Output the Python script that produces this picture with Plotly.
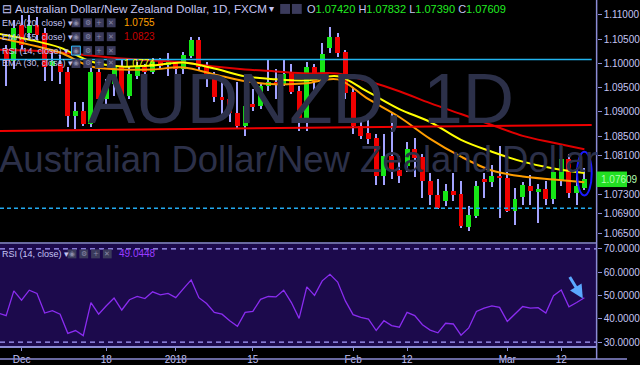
import plotly.graph_objects as go

# ---------------- data ----------------
dates = [
    "2017-11-28", "2017-11-29", "2017-11-30", "2017-12-01",
    "2017-12-04", "2017-12-05", "2017-12-06", "2017-12-07", "2017-12-08",
    "2017-12-11", "2017-12-12", "2017-12-13", "2017-12-14", "2017-12-15",
    "2017-12-18", "2017-12-19", "2017-12-20", "2017-12-21", "2017-12-22",
    "2017-12-26", "2017-12-27", "2017-12-28", "2017-12-29",
    "2018-01-01", "2018-01-02", "2018-01-03", "2018-01-04", "2018-01-05",
    "2018-01-08", "2018-01-09", "2018-01-10", "2018-01-11", "2018-01-12",
    "2018-01-15", "2018-01-16", "2018-01-17", "2018-01-18", "2018-01-19",
    "2018-01-22", "2018-01-23", "2018-01-24", "2018-01-25", "2018-01-26",
    "2018-01-29", "2018-01-30", "2018-01-31", "2018-02-01", "2018-02-02",
    "2018-02-05", "2018-02-06", "2018-02-07", "2018-02-08", "2018-02-09",
    "2018-02-12", "2018-02-13", "2018-02-14", "2018-02-15", "2018-02-16",
    "2018-02-19", "2018-02-20", "2018-02-21", "2018-02-22", "2018-02-23",
    "2018-02-26", "2018-02-27", "2018-02-28", "2018-03-01", "2018-03-02",
    "2018-03-05", "2018-03-06", "2018-03-07", "2018-03-08", "2018-03-09",
    "2018-03-12", "2018-03-13", "2018-03-14", "2018-03-15",
]
candle_dates = dates[1:]

opens = [1.10284, 1.10039, 1.10795, 1.10632, 1.10795, 1.10632, 1.09936, 1.09977, 1.09814, 1.08914,
         1.09016, 1.08750, 1.09814, 1.09261, 1.09568, 1.09916, 1.09323, 1.09732, 1.09916, 1.09814,
         1.10039, 1.09957, 1.10018, 1.09875, 1.10161, 1.10489, 1.09916, 1.09773, 1.09302, 1.09261,
         1.08975, 1.08709, 1.09159, 1.09118, 1.09527, 1.09609, 1.09568, 1.09814, 1.09425, 1.08791,
         1.09916, 1.09568, 1.10325, 1.10550, 1.10243, 1.09405, 1.08709, 1.08566, 1.08464, 1.07686,
         1.08096, 1.07809, 1.07891, 1.08239, 1.08075, 1.07584, 1.07277, 1.07155, 1.07359, 1.07298,
         1.06623, 1.06848, 1.07605, 1.07543, 1.07686, 1.07645, 1.06950, 1.07236, 1.07461, 1.07359,
         1.07400, 1.07196, 1.07564, 1.08034, 1.07318, 1.07420]
highs = [1.10386, 1.10900, 1.11000, 1.11000, 1.10959, 1.10734, 1.10284, 1.10182, 1.09916, 1.09200,
         1.09200, 1.09916, 1.09936, 1.09670, 1.10080, 1.10080, 1.09936, 1.10018, 1.09977, 1.10120,
         1.10120, 1.10223, 1.10039, 1.10243, 1.10550, 1.10550, 1.10018, 1.09814, 1.09630, 1.09507,
         1.09609, 1.09200, 1.09466, 1.09568, 1.10080, 1.09875, 1.10080, 1.09977, 1.09527, 1.10018,
         1.09977, 1.10427, 1.10755, 1.10632, 1.10284, 1.09507, 1.08811, 1.08852, 1.08545, 1.08545,
         1.08996, 1.08096, 1.08382, 1.08464, 1.08136, 1.07748, 1.07625, 1.07502, 1.07748, 1.07584,
         1.07052, 1.07584, 1.07748, 1.07911, 1.08300, 1.07809, 1.07420, 1.07543, 1.07707, 1.07502,
         1.07584, 1.08034, 1.08198, 1.08136, 1.07850, 1.07832]
lows = [1.09527, 1.09875, 1.10284, 1.10489, 1.10489, 1.09630, 1.09630, 1.09568, 1.08689, 1.08648,
        1.08709, 1.08689, 1.09159, 1.09159, 1.09323, 1.09302, 1.09261, 1.09670, 1.09773, 1.09773,
        1.09875, 1.09732, 1.09773, 1.09773, 1.10120, 1.09834, 1.09507, 1.09200, 1.08955, 1.08791,
        1.08648, 1.08505, 1.09016, 1.09057, 1.09425, 1.09261, 1.09527, 1.09364, 1.08607, 1.08607,
        1.09405, 1.09527, 1.10223, 1.10141, 1.09261, 1.08545, 1.08443, 1.08341, 1.07482, 1.07482,
        1.07625, 1.07523, 1.07768, 1.07666, 1.07216, 1.07073, 1.06990, 1.07052, 1.07155, 1.06602,
        1.06541, 1.06807, 1.07216, 1.07441, 1.06807, 1.06930, 1.06664, 1.07073, 1.07073, 1.06705,
        1.07073, 1.07093, 1.07461, 1.07216, 1.07073, 1.07390]
closes = [1.10039, 1.10734, 1.10386, 1.10795, 1.10591, 1.09916, 1.10039, 1.09814, 1.08914, 1.09016,
          1.08750, 1.09814, 1.09261, 1.09568, 1.09916, 1.09323, 1.09773, 1.09916, 1.09814, 1.10039,
          1.09936, 1.10018, 1.09875, 1.10182, 1.10489, 1.09916, 1.09691, 1.09302, 1.09261, 1.08975,
          1.08709, 1.09118, 1.09118, 1.09527, 1.09609, 1.09568, 1.09773, 1.09405, 1.08791, 1.09916,
          1.09609, 1.10202, 1.10550, 1.10223, 1.09384, 1.08709, 1.08505, 1.08443, 1.07686, 1.08096,
          1.07789, 1.07686, 1.08239, 1.08055, 1.07584, 1.07277, 1.07011, 1.07359, 1.07277, 1.06643,
          1.06868, 1.07461, 1.07564, 1.07686, 1.07645, 1.06950, 1.07196, 1.07482, 1.07359, 1.07400,
          1.07196, 1.07768, 1.08034, 1.07318, 1.07461, 1.07609]

# RSI(14) for every date (first one is the partly hidden Nov 28 bar)
rsi = [42.5, 41.4, 52.0, 48.0, 52.3, 50.9, 42.5, 43.5, 42.0, 33.8,
       35.0, 32.8, 47.0, 42.0, 45.6, 48.9, 43.8, 48.2, 49.6, 48.7,
       51.6, 50.3, 50.9, 49.1, 53.0, 56.7, 49.1, 46.6, 42.8, 42.0,
       39.2, 36.8, 42.8, 43.2, 48.4, 49.6, 49.4, 52.3, 47.0, 40.2,
       53.7, 50.1, 56.3, 59.1, 55.8, 47.7, 41.8, 40.6, 39.9, 35.0,
       39.2, 37.1, 36.4, 42.8, 41.4, 37.5, 35.2, 34.0, 38.1, 37.8,
       33.0, 36.1, 43.2, 44.6, 45.6, 44.9, 38.9, 42.0, 45.3, 44.6,
       44.8, 42.5, 49.9, 52.4, 45.2, 47.0, 49.0448]

# EMA lines at every 4th bar
ema_dates = ["2017-11-28", "2017-12-04", "2017-12-08", "2017-12-14", "2017-12-20",
             "2017-12-27", "2018-01-02", "2018-01-08", "2018-01-12", "2018-01-18",
             "2018-01-24", "2018-01-30", "2018-02-05", "2018-02-09", "2018-02-15",
             "2018-02-21", "2018-02-27", "2018-03-05", "2018-03-09", "2018-03-15"]
ema20 = [1.10530, 1.10386, 1.10223, 1.09936, 1.09875, 1.09875, 1.09916, 1.09773, 1.09630, 1.09568,
         1.09589, 1.09670, 1.09261, 1.08893, 1.08443, 1.08075, 1.07789, 1.07666, 1.07605, 1.0755]
ema30 = [1.10611, 1.10489, 1.10325, 1.10039, 1.09936, 1.09957, 1.10018, 1.09895, 1.09732, 1.09670,
         1.09650, 1.09732, 1.09405, 1.09057, 1.08791, 1.08423, 1.08177, 1.07973, 1.07830, 1.0774]
ema55 = [1.10284, 1.10264, 1.10223, 1.10161, 1.10100, 1.10059, 1.10018, 1.09936, 1.09875, 1.09834,
         1.09793, 1.09793, 1.09630, 1.09425, 1.09180, 1.08955, 1.08730, 1.08505, 1.08362, 1.0823]

# drawn levels
cyan_level = 1.10080
dash_level = 1.07011
trend_start, trend_end = 1.08607, 1.08730

price_ticks = [1.110, 1.105, 1.100, 1.095, 1.090, 1.085, 1.081, 1.073, 1.069, 1.065]
price_tick_text = ["1.11000", "1.10500", "1.10000", "1.09500", "1.09000", "1.08500",
                   "1.08100", "1.07300", "1.06900", "1.06500"]
rsi_ticks = [30, 40, 50, 60, 70]
rsi_tick_text = ["30.0000", "40.0000", "50.0000", "60.0000", "70.0000"]
x_tick_dates = ["2017-12-01", "2017-12-18", "2018-01-01", "2018-01-15",
                "2018-02-01", "2018-02-12", "2018-03-01", "2018-03-12"]
x_tick_text = ["Dec", "18", "2018", "15", "Feb", "12", "Mar", "12"]

# ---------------- styling ----------------
W, H = 640, 365
AXX = 609 / W
LAV = "#c4c4f4"
AXC = "#8c8cd6"
GREEN = "#16e616"
RED = "#f00000"
WICK = "#a3a3ff"
FONT = "Liberation Sans"


def px(x):
    return x / W


def py(y):
    return 1 - y / H


body_lo = [min(o, c) for o, c in zip(opens, closes)]
body_h = [max(abs(c - o), 0.00025) for o, c in zip(opens, closes)]
body_col = [GREEN if c >= o else RED for o, c in zip(opens, closes)]

fig = go.Figure()
# wicks
fig.add_trace(go.Bar(x=candle_dates, y=[h - l for h, l in zip(highs, lows)], base=lows,
                     width=0.14, marker=dict(color=WICK, line=dict(width=0)),
                     xaxis="x", yaxis="y", hoverinfo="skip"))
# bodies
fig.add_trace(go.Bar(x=candle_dates, y=body_h, base=body_lo, width=0.64,
                     marker=dict(color=body_col, line=dict(width=0)),
                     xaxis="x", yaxis="y"))
# EMAs
fig.add_trace(go.Scatter(x=ema_dates, y=ema55, mode="lines", line=dict(color="#e00000", width=2, shape="spline"),
                         xaxis="x", yaxis="y"))
fig.add_trace(go.Scatter(x=ema_dates, y=ema20, mode="lines", line=dict(color="#ff9d00", width=2, shape="spline"),
                         xaxis="x", yaxis="y"))
fig.add_trace(go.Scatter(x=ema_dates, y=ema30, mode="lines", line=dict(color="#ffff00", width=2, shape="spline"),
                         xaxis="x", yaxis="y"))
# RSI
fig.add_trace(go.Scatter(x=dates, y=rsi, mode="lines", line=dict(color="#8a2cf0", width=1.3),
                         xaxis="x2", yaxis="y2"))

xr = [0.205, 77.59]
common_x = dict(type="category", categoryorder="array", categoryarray=dates, range=xr,
                domain=[0, AXX], showgrid=False, zeroline=False, fixedrange=True)
fig.update_layout(
    width=W, height=H, margin=dict(l=0, r=0, t=0, b=0),
    paper_bgcolor="#000000", plot_bgcolor="#000000",
    showlegend=False, barmode="overlay", bargap=0,
    font=dict(family=FONT, color=LAV, size=10),
    xaxis=dict(**common_x, anchor="y", showticklabels=False, showline=False, ticks=""),
    xaxis2=dict(**common_x, anchor="y2", matches="x", showticklabels=True,
                tickvals=x_tick_dates, ticktext=x_tick_text, ticks="outside", ticklen=3,
                tickcolor=AXC, tickfont=dict(size=10, color=LAV, family=FONT),
                showline=True, linecolor=AXC, linewidth=1.5),
    yaxis=dict(domain=[py(243), 1], range=[1.06336, 1.11307], side="right", anchor="x",
               tickvals=price_ticks, ticktext=price_tick_text, ticks="outside", ticklen=4,
               tickcolor=AXC, tickfont=dict(size=10, color=LAV, family=FONT),
               showgrid=False, zeroline=False, showline=False, fixedrange=True),
    yaxis2=dict(domain=[py(349), py(246)], range=[28.30, 72.13], side="right", anchor="x2",
                tickvals=rsi_ticks, ticktext=rsi_tick_text, ticks="outside", ticklen=4,
                tickcolor=AXC, tickfont=dict(size=10, color=LAV, family=FONT),
                showgrid=False, zeroline=False, showline=False, fixedrange=True),
)

shapes = []
# RSI pane background
shapes.append(dict(type="rect", xref="paper", yref="y2 domain", x0=0, x1=AXX, y0=0, y1=1,
                   fillcolor="#1c0a4c", line=dict(width=0), layer="below"))
# RSI 70/30 bands
for lvl in (70, 30):
    shapes.append(dict(type="line", xref="paper", yref="y2", x0=0, x1=AXX, y0=lvl, y1=lvl,
                       line=dict(color="#a8a0ff", width=1.2, dash="5px,4px")))
# frame lines
shapes.append(dict(type="line", xref="paper", yref="paper", x0=AXX, x1=AXX, y0=py(362), y1=1,
                   line=dict(color=AXC, width=1.5)))
shapes.append(dict(type="line", xref="paper", yref="paper", x0=0, x1=AXX, y0=py(245), y1=py(245),
                   line=dict(color=AXC, width=1.5)))
shapes.append(dict(type="line", xref="paper", yref="paper", x0=0, x1=1, y0=py(362), y1=py(362),
                   line=dict(color=AXC, width=1.5)))
# drawn price levels
shapes.append(dict(type="line", xref="x", yref="y", x0=xr[0], x1=76.95, y0=cyan_level, y1=cyan_level,
                   line=dict(color="#22b4ee", width=1.5)))
shapes.append(dict(type="line", xref="x", yref="y", x0=xr[0], x1=76.95, y0=dash_level, y1=dash_level,
                   line=dict(color="#22aaf0", width=1.5, dash="4px,3px")))
shapes.append(dict(type="line", xref="x", yref="y", x0=xr[0], x1=76.95, y0=trend_start, y1=trend_end,
                   line=dict(color="#f00000", width=2)))
# ellipse around last candle
shapes.append(dict(type="circle", xref="x", yref="y", x0=75.05, x1=76.95, y0=1.07277, y1=1.08177,
                   line=dict(color="#1a1aff", width=2)))
# last price label
shapes.append(dict(type="rect", xref="paper", yref="y", x0=px(609), x1=1, y0=1.07609 - 0.0016,
                   y1=1.07609 + 0.0016, fillcolor="#22e022", line=dict(width=0)))

annotations = []
# watermark
annotations.append(dict(text="AUDNZD, 1D", xref="paper", yref="paper", x=px(307), y=py(99),
                        xanchor="center", yanchor="middle", showarrow=False,
                        font=dict(size=71, color="#2c3049", family=FONT)))
annotations.append(dict(text="Australian Dollar/New Zealand Dollar", xref="paper", yref="paper",
                        x=px(304), y=py(161), xanchor="center", yanchor="middle", showarrow=False,
                        font=dict(size=36.5, color="#2c3049", family=FONT)))


def label(text, x, y, size=10, color=LAV):
    annotations.append(dict(text=text, xref="paper", yref="paper", x=px(x), y=py(y),
                            xanchor="left", yanchor="middle", showarrow=False,
                            font=dict(size=size, color=color, family=FONT)))


def icons(xs, y, first_hi=False):
    glyphs = ["◉", "⚙", "+", "✕"]
    for k, (x0, g) in enumerate(zip(xs, glyphs)):
        shapes.append(dict(type="rect", xref="paper", yref="paper", x0=px(x0), x1=px(x0 + 9),
                           y0=py(y + 4.5), y1=py(y - 4.5), fillcolor="#3b3b5c",
                           line=dict(width=1 if (first_hi and k == 0) else 0, color="#33bbff")))
        annotations.append(dict(text=g, xref="paper", yref="paper", x=px(x0 + 4.5), y=py(y),
                                xanchor="center", yanchor="middle", showarrow=False,
                                font=dict(size=7, color="#8a8aa8", family="DejaVu Sans")))


label("⊟", 0, 9, size=12)
label("Australian Dollar/New Zealand Dollar, 1D, FXCM", 13, 9, size=11.7)
label("▾", 273, 9, size=10, color=LAV)
for x0 in (286, 298):
    shapes.append(dict(type="rect", xref="paper", yref="paper", x0=px(x0), x1=px(x0 + 10),
                       y0=py(14), y1=py(4), fillcolor="#3b3b5c", line=dict(width=0)))
ohlc = ("<span style='color:#c4c4f4'>O</span>1.07420 <span style='color:#c4c4f4'>H</span>1.07832 "
        "<span style='color:#c4c4f4'>L</span>1.07390 <span style='color:#c4c4f4'>C</span>1.07609")
label(ohlc, 311, 9, size=11, color="#22ee22")

rows = [("EMA (20, close)", 23, "1.0755", "#ffa000"),
        ("EMA (55, close)", 37, "1.0823", "#c80000"),
        ("RSI (14, close)", 51, "", ""),
        ("EMA (30, close)", 64, "1.0774", "#ffff00")]
for name, y, val, col in rows:
    label(name + " ▾", 0, y, size=9)
    icons([73, 85, 97, 109], y, first_hi=name.startswith("RSI"))
    if val:
        label(val, 125, y, size=10, color=col)

label("RSI (14, close) ▾", 0, 256, size=9)
icons([69, 81, 93, 105], 256)
label("49.0448", 119, 256, size=10, color="#9a3cff")

label("1.07609", 611, 180.5, size=10, color="#b0ffb0")

# arrow in RSI pane
annotations.append(dict(x=75.8, y=48.7, xref="x2", yref="y2", ax=-14, ay=-23, text="",
                        showarrow=True, arrowhead=2, arrowsize=0.9, arrowwidth=3,
                        arrowcolor="#5aa8ff"))

fig.update_layout(shapes=shapes, annotations=annotations)
fig.write_html("out.html")
